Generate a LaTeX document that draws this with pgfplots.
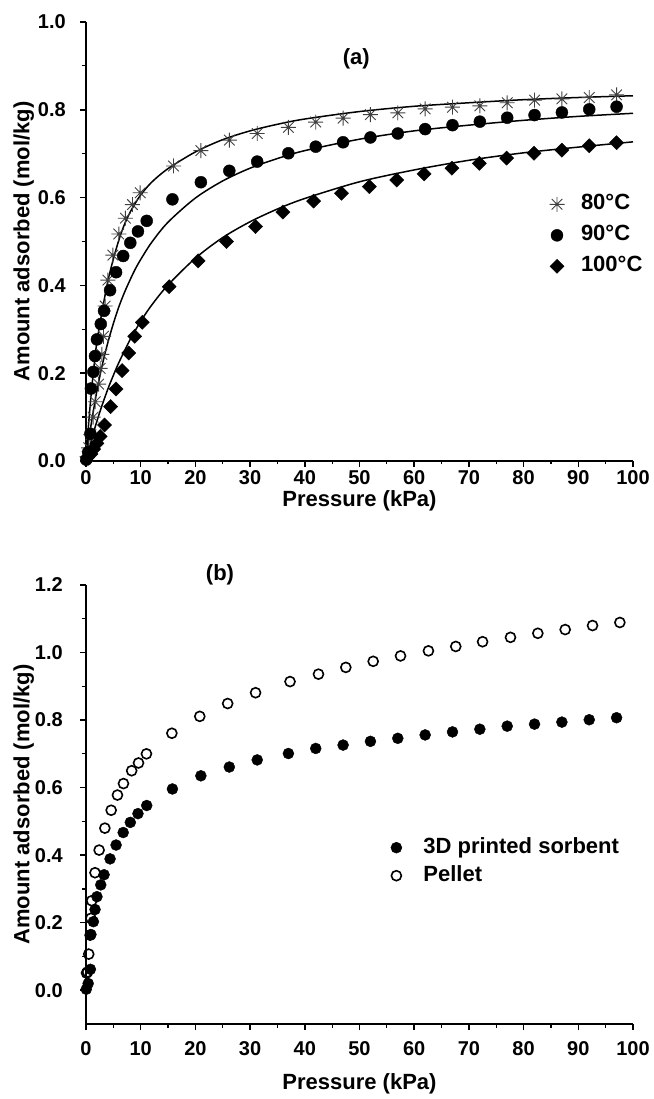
\documentclass[border=0pt]{standalone}
\usepackage{fontspec}
\setmainfont{Liberation Sans}
\usepackage{pgfplots}
\pgfplotsset{compat=1.18}
\pgfdeclareplotmark{star8}{%
  \pgfpathmoveto{\pgfqpoint{0pt}{\pgfplotmarksize}}\pgfpathlineto{\pgfqpoint{0pt}{-\pgfplotmarksize}}%
  \pgfpathmoveto{\pgfqpoint{\pgfplotmarksize}{0pt}}\pgfpathlineto{\pgfqpoint{-\pgfplotmarksize}{0pt}}%
  \pgfpathmoveto{\pgfqpoint{.7071\pgfplotmarksize}{.7071\pgfplotmarksize}}\pgfpathlineto{\pgfqpoint{-.7071\pgfplotmarksize}{-.7071\pgfplotmarksize}}%
  \pgfpathmoveto{\pgfqpoint{-.7071\pgfplotmarksize}{.7071\pgfplotmarksize}}\pgfpathlineto{\pgfqpoint{.7071\pgfplotmarksize}{-.7071\pgfplotmarksize}}%
  \pgfusepathqstroke}
\pgfplotsset{
 common/.style={
  scale only axis, width=547pt, height=439pt,
  xmin=0, xmax=100, xtick={0,10,20,30,40,50,60,70,80,90,100}, minor x tick num=1,
  axis x line*=bottom, axis y line*=left,
  axis line style={line width=1.5pt,-},
  tick align=outside, major tick length=6pt, minor tick length=3.5pt,
  major tick style={line width=1.5pt, black},
  minor tick style={line width=1.2pt, black},
  tick label style={font=\fontsize{20}{24}\selectfont\bfseries},
  /pgf/number format/assume math mode=true,
  label style={font=\fontsize{22}{26}\selectfont\bfseries},
  xticklabel style={anchor=north, inner sep=0pt},
  yticklabel style={anchor=east, inner sep=0pt},
  yticklabel={\pgfmathprintnumber[fixed,fixed zerofill,precision=1,assume math mode=true]{\tick}},
  ylabel={Amount adsorbed (mol/kg)}, xlabel={Pressure (kPa)},
  ylabel style={at={(axis description cs:-0.114,0.5)}, anchor=center},
  legend cell align=left,
  clip=false,
 },
 fit/.style={no marks, black, line width=1.5pt, smooth, forget plot},
}
\begin{document}
\begin{tikzpicture}
\path[use as bounding box] (-86pt,-638pt) rectangle (567pt,461pt);
% ---------------- (a)
\begin{axis}[common, ymin=0, ymax=1, ytick={0,0.2,0.4,0.6,0.8,1.0}, minor y tick num=1,
 yticklabel style={xshift=-14pt}, xticklabel style={yshift=-3pt},
 xlabel style={at={(axis description cs:0.5,0)}, anchor=center, yshift=-40pt},
 legend style={at={(0.847,0.609)}, anchor=north west, draw=none, fill=none, inner sep=0pt,
   row sep=10pt, nodes={inner sep=0pt, text height=16pt, text depth=5pt, font=\fontsize{22}{26}\selectfont\bfseries},
   /tikz/every odd column/.append style={column sep=16.5pt}},
]
\addplot[only marks, mark=star8, mark size=7.5pt, mark options={draw=black!75, line width=0.9pt}] coordinates {
(0.2,0.01) (0.5,0.03) (0.9,0.06) (1.3,0.10) (1.7,0.135) (2.3,0.175) (2.6,0.211) (2.9,0.243)
(3.2,0.284) (3.5,0.353) (4.0,0.412) (4.9,0.469) (6.0,0.517) (7.2,0.553) (8.5,0.584) (9.9,0.611)
(16,0.672) (21,0.707) (26.2,0.731) (31.3,0.746) (37,0.760) (42,0.772) (47,0.781) (52,0.789)
(57,0.793) (62,0.802) (67,0.806) (72,0.809) (77,0.816) (82,0.822) (87,0.825) (92,0.828) (97,0.834)};
\addlegendentry{80°C}
\addplot[only marks, mark=*, mark size=6pt, black] coordinates {
(0.05,0.003) (0.4,0.020) (0.8,0.062) (0.9,0.165) (1.35,0.203) (1.65,0.239) (2.0,0.277) (2.7,0.312)
(3.3,0.342) (4.4,0.389) (5.5,0.430) (6.8,0.467) (8.1,0.497) (9.5,0.523) (11.1,0.547)
(15.8,0.596) (21.0,0.635) (26.2,0.661) (31.3,0.682) (37,0.701) (42,0.716) (47,0.726) (52,0.737)
(57,0.746) (62,0.756) (67,0.765) (72,0.773) (77,0.782) (82,0.788) (87,0.794) (92,0.801) (97,0.807)};
\addlegendentry{90°C}
\addplot[only marks, mark=square*, mark size=5pt, mark options={rotate=45}, black] coordinates {
(0.3,0.008) (0.9,0.016) (1.4,0.027) (2.0,0.040) (2.6,0.056) (3.4,0.082) (4.5,0.124) (5.5,0.164)
(6.6,0.206) (7.8,0.246) (8.9,0.284) (10.3,0.316) (15.2,0.397) (20.5,0.456) (25.7,0.500) (31.0,0.534)
(36.0,0.567) (41.6,0.592) (46.7,0.610) (51.8,0.625) (56.8,0.640) (61.8,0.654) (66.9,0.667)
(71.9,0.678) (76.9,0.690) (81.9,0.701) (87.0,0.708) (92.0,0.718) (97.0,0.725)};
\addlegendentry{100°C}
\addplot[fit] coordinates {
(0,0) (0.25,0.045) (0.5,0.088) (1,0.160) (1.5,0.220) (2,0.272) (3,0.345) (4,0.410) (5,0.460)
(6,0.503) (7,0.538) (8,0.565) (9,0.587) (10,0.606) (12,0.635) (15,0.666) (20,0.704) (25,0.732)
(30,0.752) (35,0.767) (40,0.779) (50,0.796) (60,0.808) (70,0.816) (80,0.823) (90,0.828) (100,0.832)};
\addplot[fit] coordinates {
(0,0) (0.5,0.047) (1,0.088) (2,0.160) (3,0.220) (4,0.270) (5,0.313) (6,0.351) (7,0.383) (8,0.411)
(9,0.437) (10,0.459) (12,0.498) (15,0.544) (20,0.599) (25,0.638) (30,0.667) (35,0.689) (40,0.707)
(50,0.733) (60,0.752) (70,0.765) (80,0.776) (90,0.785) (100,0.792)};
\addplot[fit] coordinates {
(0,0) (1,0.048) (2,0.091) (3,0.129) (4,0.164) (5,0.195) (6,0.224) (8,0.275) (10,0.318) (12,0.355)
(15,0.401) (20,0.462) (25,0.509) (30,0.545) (35,0.574) (40,0.598) (50,0.636) (60,0.663) (70,0.685)
(80,0.702) (90,0.715) (100,0.727)};
\node[font=\fontsize{22}{26}\selectfont\bfseries] at (axis description cs:0.494,0.916) {(a)};
\end{axis}
% ---------------- (b)
\begin{axis}[common, at={(0pt,-563pt)}, anchor=south west,
 ymin=-0.1, ymax=1.2, ytick={0,0.2,0.4,0.6,0.8,1.0,1.2}, minor ytick={0.1,0.3,0.5,0.7,0.9,1.1},
 yticklabel style={xshift=-17pt}, xticklabel style={yshift=-11pt},
 xlabel style={at={(axis description cs:0.5,0)}, anchor=center, yshift=-60pt},
 legend style={at={(0.557,0.426)}, anchor=north west, draw=none, fill=none, inner sep=0pt,
   row sep=7pt, nodes={inner sep=0pt, text height=16pt, text depth=5pt, font=\fontsize{22}{26}\selectfont\bfseries},
   /tikz/every odd column/.append style={column sep=21.5pt}},
]
\addplot[only marks, mark=*, mark size=5.5pt, black] coordinates {
(0.05,0.003) (0.4,0.020) (0.8,0.062) (0.9,0.165) (1.35,0.203) (1.65,0.239) (2.0,0.277) (2.7,0.312)
(3.3,0.342) (4.4,0.389) (5.5,0.430) (6.8,0.467) (8.1,0.497) (9.5,0.523) (11.1,0.547)
(15.8,0.596) (21.0,0.635) (26.2,0.661) (31.3,0.682) (37,0.701) (42,0.716) (47,0.726) (52,0.737)
(57,0.746) (62,0.756) (67,0.765) (72,0.773) (77,0.782) (82,0.788) (87,0.794) (92,0.801) (97,0.807)};
\addlegendentry{3D printed sorbent}
\addplot[only marks, mark=o, mark size=5pt, mark options={line width=1.6pt, fill=white}, black] coordinates {
(0.1,0.051) (0.3,0.054) (0.5,0.107) (0.75,0.163) (0.9,0.213) (1.05,0.265) (1.65,0.348) (2.4,0.415)
(3.45,0.480) (4.6,0.533) (5.75,0.578) (6.85,0.612) (8.35,0.650) (9.6,0.673) (11.05,0.700)
(15.7,0.761) (20.8,0.811) (25.9,0.849) (31.0,0.881) (37.3,0.914) (42.5,0.936) (47.5,0.956)
(52.5,0.974) (57.5,0.990) (62.6,1.005) (67.6,1.018) (72.5,1.032) (77.6,1.045) (82.6,1.057)
(87.6,1.068) (92.6,1.080) (97.6,1.089)};
\addlegendentry{Pellet}
\node[font=\fontsize{22}{26}\selectfont\bfseries] at (axis description cs:0.245,1.023) {(b)};
\end{axis}
\end{tikzpicture}
\end{document}
